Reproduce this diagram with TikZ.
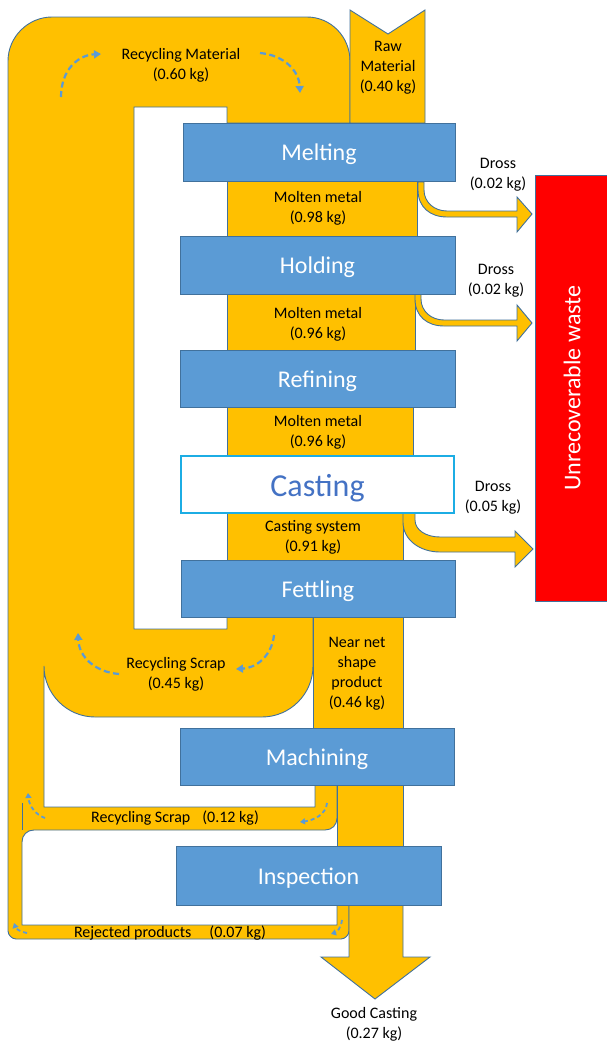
\documentclass[tikz,border=0pt]{standalone}
\usepackage{fontspec}
\setmainfont{Carlito}
\usetikzlibrary{arrows.meta}
\usetikzlibrary{positioning}
\definecolor{flow}{HTML}{FFC000}
\definecolor{flowline}{HTML}{41719C}
\definecolor{procblue}{HTML}{5B9BD5}
\definecolor{castline}{HTML}{1CADE4}
\definecolor{casttext}{HTML}{4472C4}
\definecolor{wastered}{HTML}{FF0000}
\tikzset{
    flowpart/.style = {fill=flow, draw=flowline, line width=0.9pt},
    process/.style = {rectangle, draw=flowline, line width=0.9pt, fill=procblue, text=white, inner sep=0pt, text height=21pt, text depth=4pt, font=\fontsize{24}{28}\selectfont},
    castbox/.style = {rectangle, draw=castline, line width=1.1pt, fill=white, text=casttext, inner sep=0pt, text height=27pt, text depth=4pt, font=\fontsize{32}{38}\selectfont},
    wastebox/.style = {rectangle, draw=flowline, line width=0.9pt, fill=wastered},
    flowtext/.style = {align=center, inner sep=0pt, font=\fontsize{16}{20}\selectfont},
    looparrow/.style = {draw=procblue, line width=2.2pt, dash pattern=on 6pt off 3.5pt, -{Triangle[length=7pt,width=8pt]}},
    smallloop/.style = {draw=procblue, line width=1.8pt, dash pattern=on 4pt off 3pt, -{Triangle[length=5pt,width=6pt]}}
}

\begin{document}
\begin{tikzpicture}[x=1pt, y=-1pt]
  \useasboundingbox (0,0) rectangle (606,1042);

  % recycling loops
  \draw[flowpart] (350,123) -- (350,61)
    .. controls (350,37) and (331,17) .. (307,17) -- (52,17)
    .. controls (28,17) and (8,37) .. (8,61) -- (8,931)
    .. controls (8,935) and (12,939) .. (16,939) -- (341,939)
    .. controls (345,939) and (349,935) .. (349,931)
    -- (349,905) -- (337,905) -- (337,925) -- (22,925) -- (22,842)
    .. controls (22,835) and (27,830) .. (34,830) -- (325,830)
    .. controls (332,830) and (337,825) .. (337,818)
    -- (337,785) -- (315,785) -- (315,807) -- (44,807) -- (44,666)
    .. controls (44,694) and (67,717) .. (95,717) -- (262,717)
    .. controls (290,717) and (313,694) .. (313,666)
    -- (313,617) -- (227,617) -- (227,629) -- (134,629) -- (134,107)
    -- (227,107) -- (227,123) -- cycle;
  \draw[flowline, line width=0.9pt] (22,803) -- (22,830);

  % raw material and main stream
  \draw[flowpart] (350,10) -- (388,34) -- (425,10) -- (425,123) -- (350,123) -- cycle;
  \draw[flowpart] (227,181) rectangle (417,236);
  \draw[flowpart] (227,294) rectangle (415,350);
  \draw[flowpart] (227,407) rectangle (413,456);
  \draw[flowpart] (227,513) rectangle (403,560);
  \draw[flowpart] (313,617) rectangle (403,728);
  \draw[flowpart] (337,785) rectangle (403,846);
  \draw[flowpart] (349,905) -- (349,957) -- (321,957) -- (375,999)
    -- (430,957) -- (403,957) -- (403,905) -- cycle;

  % dross
  \draw[flowpart] (418,182) -- (418,190) .. controls (418,207) and (430,217) .. (447,217)
    -- (517,217) -- (517,232) -- (532,214) -- (517,197) -- (517,211) -- (447,211)
    .. controls (434,211) and (424,202) .. (424,190) -- (424,182) -- cycle;
  \draw[flowpart] (415,294) -- (415,299) .. controls (415,316) and (427,326) .. (444,326)
    -- (517,326) -- (517,341) -- (532,323) -- (517,305) -- (517,320) -- (444,320)
    .. controls (431,320) and (421,311) .. (421,299) -- (421,294) -- cycle;
  \draw[flowpart] (403,513) -- (403,522) .. controls (403,540) and (420,552) .. (440,552)
    -- (515,552) -- (515,567) -- (533,549) -- (515,531) -- (515,537) -- (440,537)
    .. controls (426,537) and (415,530) .. (415,520) -- (415,513) -- cycle;

  % process steps
  \node[process, minimum width=272pt, minimum height=58pt] (melting) at (319,152) {Melting};
  \node[process, minimum width=275pt, minimum height=58pt] (holding) at (317.5,265) {Holding};
  \node[process, minimum width=275pt, minimum height=57pt] (refining) at (317.5,378.5) {Refining};
  \node[castbox, minimum width=273pt, minimum height=57pt] (casting) at (317.5,484.5) {Casting};
  \node[process, minimum width=274pt, minimum height=57pt] (fettling) at (318,588.5) {Fettling};
  \node[process, minimum width=274pt, minimum height=57pt] (machining) at (317,756.5) {Machining};
  \node[process, minimum width=265pt, minimum height=59pt] (inspection) at (308.5,875.5) {Inspection};

  \node[wastebox, minimum width=77pt, minimum height=426pt] (waste) at (573.5,388) {};
  \node[rotate=90, text=white, inner sep=0pt, font=\fontsize{24}{28}\selectfont] (wastetext) at (572,388) {Unrecoverable waste};

  % flow labels
  \node[flowtext] (recmat) at (181,65) {Recycling Material\\(0.60 kg)};
  \node[flowtext] (raw) at (388,68) {Raw\\Material\\(0.40 kg)};
  \node[flowtext] (molten1) at (318,208) {Molten metal\\(0.98 kg)};
  \node[flowtext] (molten2) at (318,324) {Molten metal\\(0.96 kg)};
  \node[flowtext] (molten3) at (318,432) {Molten metal\\(0.96 kg)};
  \node[flowtext] (castsys) at (313,537) {Casting system\\(0.91 kg)};
  \node[flowtext] (scrap1) at (176,674) {Recycling Scrap\\(0.45 kg)};
  \node[flowtext] (nearnet) at (357,674) {Near net\\shape\\product\\(0.46 kg)};
  \node[flowtext] (scrap2) at (175,818) {Recycling Scrap\hspace{12pt}(0.12 kg)};
  \node[flowtext] (reject) at (170,933) {Rejected products\hspace{18pt}(0.07 kg)};
  \node[flowtext] (good) at (374,1024) {Good Casting\\(0.27 kg)};
  \node[flowtext] (dross1) at (498,175) {Dross\\(0.02 kg)};
  \node[flowtext] (dross2) at (496,281) {Dross\\(0.02 kg)};
  \node[flowtext] (dross3) at (493,498) {Dross\\(0.05 kg)};

  % recycling directions
  \draw[looparrow] (61,97) .. controls (61,70) and (78,55) .. (101,54);
  \draw[looparrow] (260,53) .. controls (283,55) and (299,70) .. (300,93);
  \draw[looparrow] (274,635) .. controls (272,655) and (257,668) .. (236,669);
  \draw[looparrow] (119,674) .. controls (95,672) and (79,657) .. (78,633);
  \draw[smallloop] (327,803) .. controls (326,814) and (315,820) .. (300,822);
  \draw[smallloop] (45,818) .. controls (36,815) and (29,806) .. (28,793);
  \draw[smallloop] (342,920) .. controls (341,928) and (337,932) .. (331,934);
  \draw[smallloop] (27,933) .. controls (21,932) and (16,929) .. (14,923);
\end{tikzpicture}
\end{document}
